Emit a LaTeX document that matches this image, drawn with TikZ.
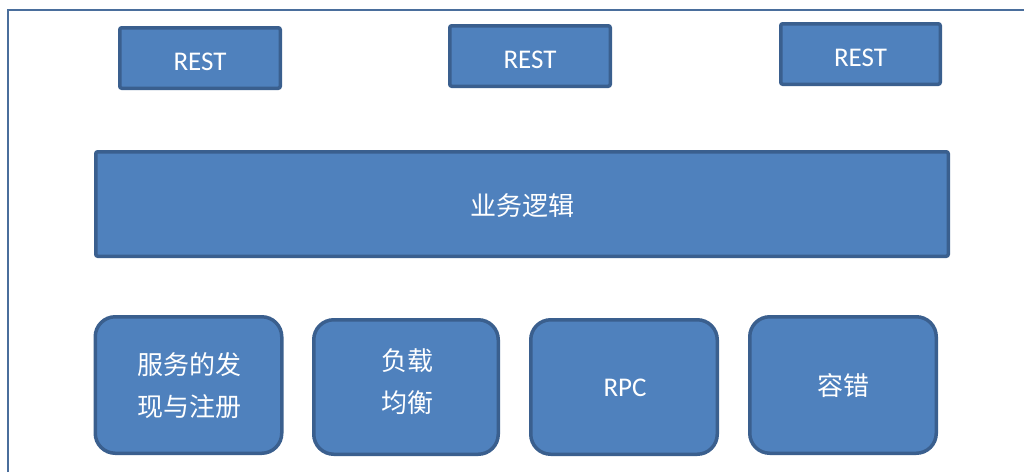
\documentclass[tikz,border=0pt]{standalone}
\usepackage{fontspec}
\setmainfont{Carlito}
\newfontfamily\cjk{Noto Sans CJK SC}
\definecolor{boxfill}{HTML}{4F81BD}
\definecolor{boxline}{HTML}{3A5F8E}
\definecolor{framecol}{HTML}{4A6E9C}
\begin{document}
\begin{tikzpicture}[x=1pt,y=-1pt,
  blk/.style={draw=boxline,fill=boxfill,line width=3.5pt,inner sep=0pt},
  sq/.style={blk,rounded corners=2pt},
  rnd/.style={blk,rounded corners=20pt},
  txt/.style={inner sep=0pt,text=white,align=center},
  lat/.style={txt,font=\fontsize{27}{32}\selectfont},
  han/.style={txt,font=\cjk\fontsize{26}{42}\selectfont}]
\useasboundingbox (0,0) rectangle (1024,472);
\draw[framecol,line width=1.5pt] (8,472) -- (8,10) -- (1024,10);
\node[sq,minimum width=160.5pt,minimum height=60.5pt] (r1) at (200,58) {};
\node[sq,minimum width=160.5pt,minimum height=60.5pt] (r2) at (530,56) {};
\node[sq,minimum width=159.5pt,minimum height=60.5pt] (r3) at (860.5,54) {};
\node[lat] (r1t) at ([yshift=-4pt]r1.center) {REST};
\node[lat] (r2t) at ([yshift=-4pt]r2.center) {REST};
\node[lat] (r3t) at ([yshift=-4pt]r3.center) {REST};
\node[sq,minimum width=852.5pt,minimum height=104.5pt] (logic) at (522,204) {};
\node[han] (logict) at (522,206) {业务逻辑};
\node[rnd,minimum width=186.5pt,minimum height=136.5pt] (disc) at (188.5,385) {};
\node[han] (disct) at (189,386) {服务的发\\现与注册};
\node[rnd,minimum width=184.5pt,minimum height=134.5pt] (lb) at (406,387) {};
\node[han] (lbt) at (407,382) {负载\\均衡};
\node[rnd,minimum width=186.5pt,minimum height=134.5pt] (rpc) at (624,387) {};
\node[lat] (rpct) at (625,388) {RPC};
\node[rnd,minimum width=186.5pt,minimum height=136.5pt] (ft) at (843,385) {};
\node[han] (ftt) at (843,386) {容错};
\end{tikzpicture}
\end{document}
